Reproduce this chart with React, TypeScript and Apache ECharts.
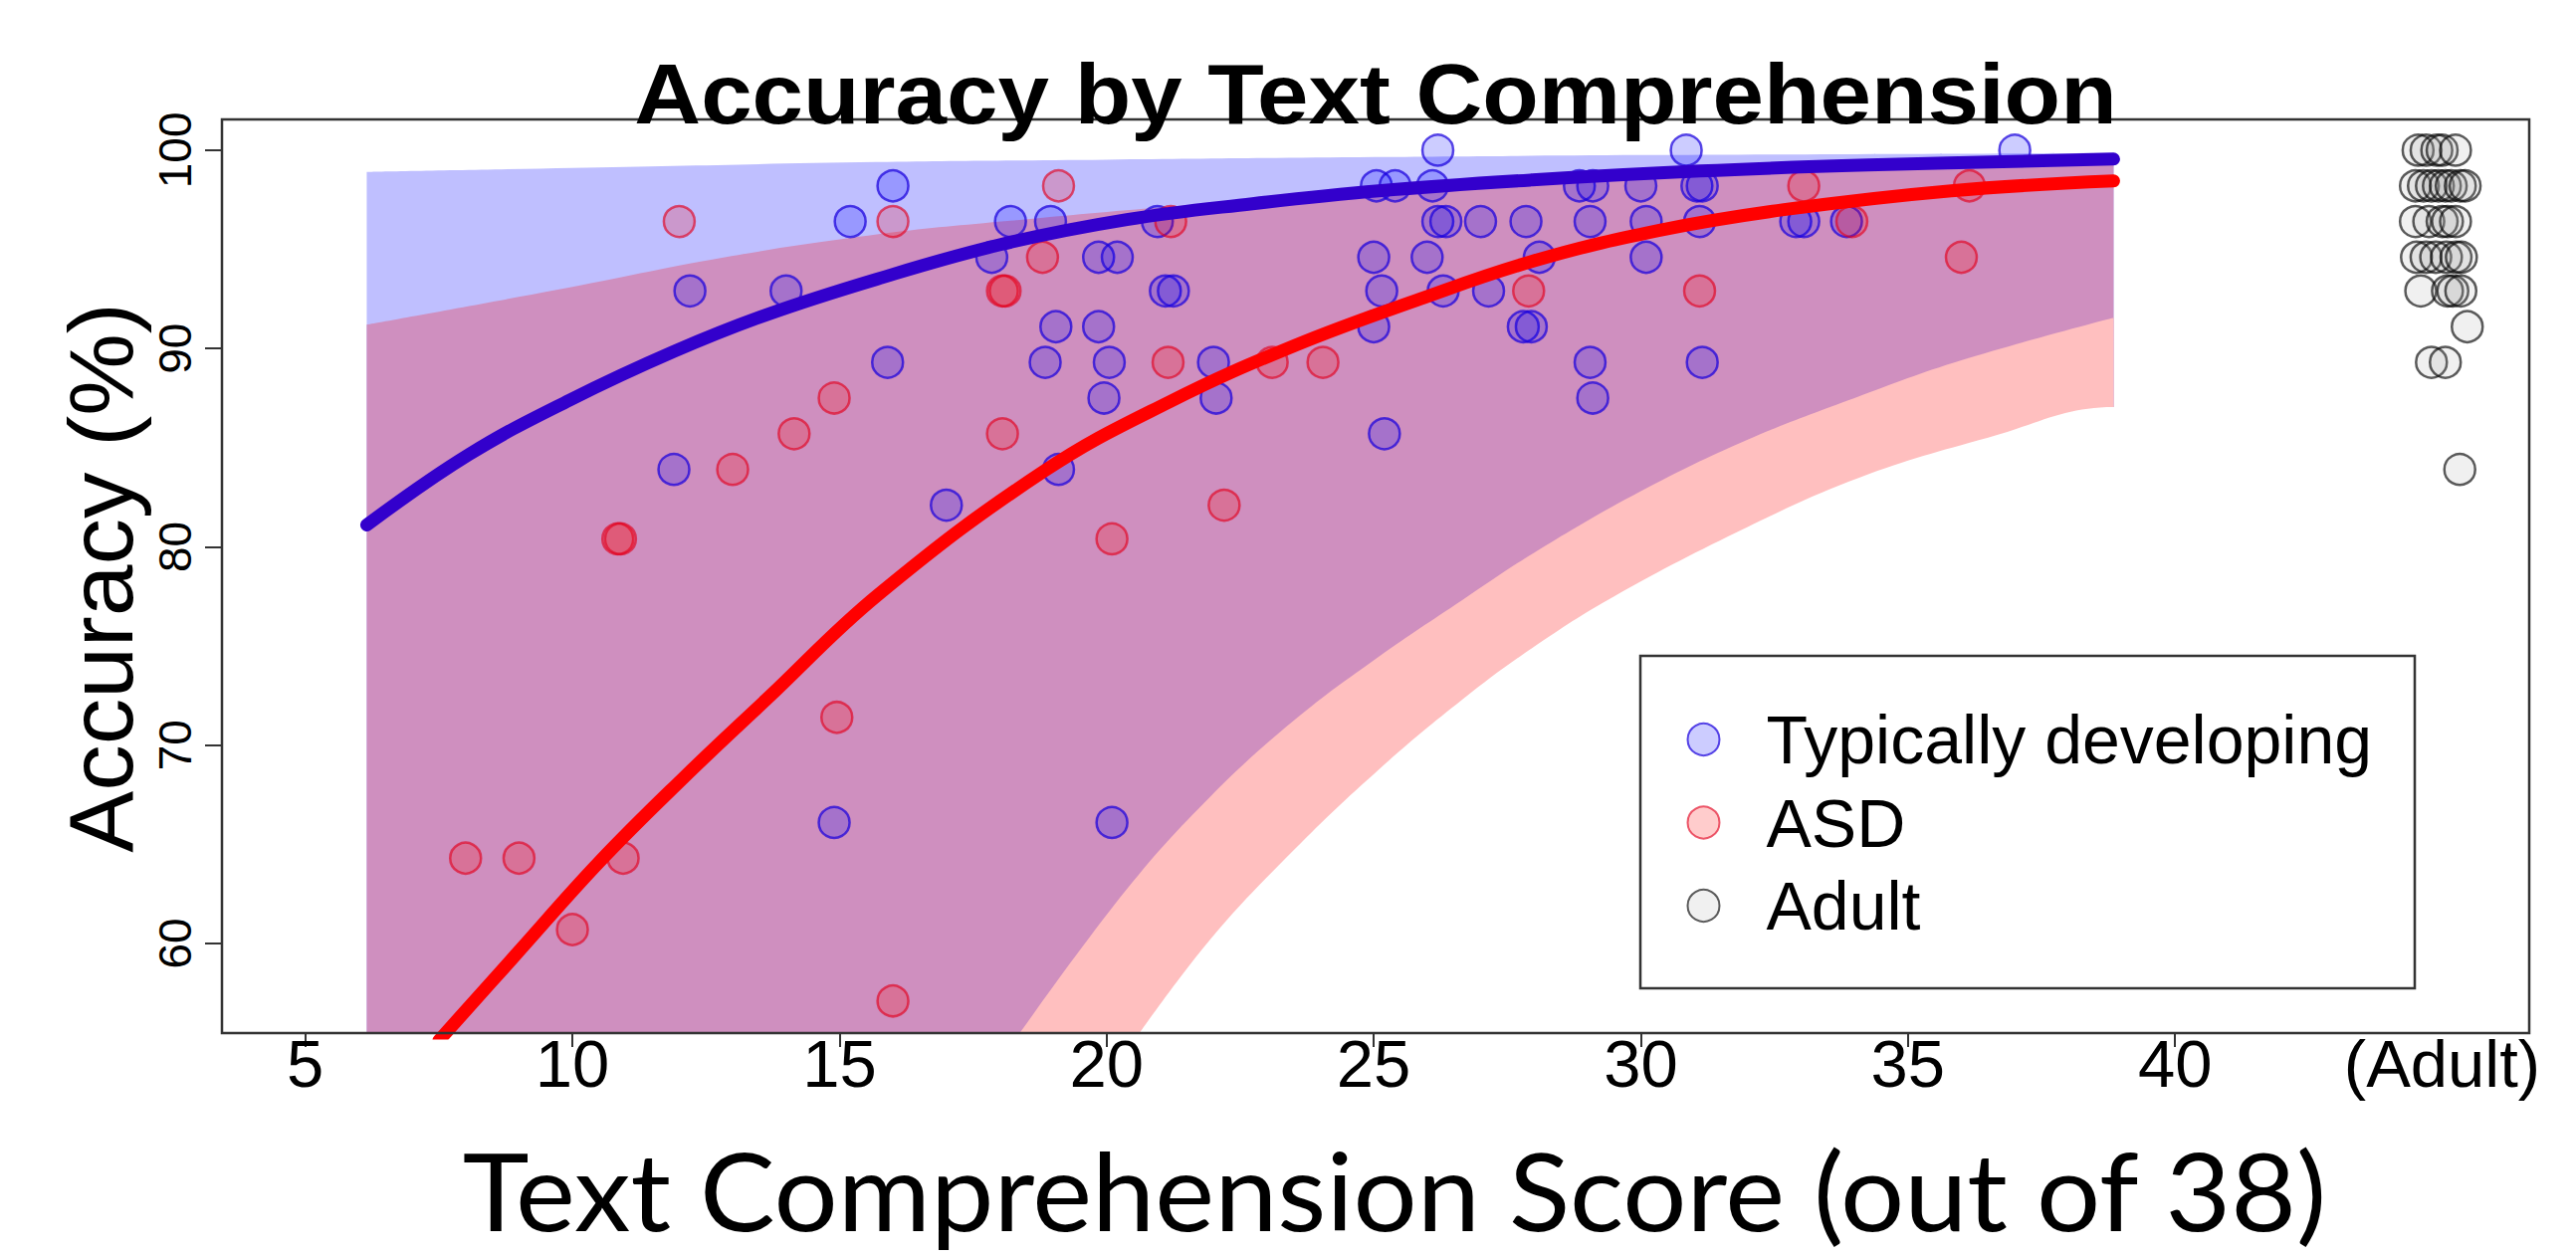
import React, { useEffect, useRef } from "react";
import * as echarts from "echarts";

// ---- axis tick / label values ----
const xTickValues = [5, 10, 15, 20, 25, 30, 35, 40];
const adultPosition = 45;
const xLabelValues = [5, 10, 15, 20, 25, 30, 35, 40, 45];
const yTickValues = [60, 70, 80, 90, 100];

// ---- scatter data: [text comprehension score, accuracy %] ----
const tdPoints: [number, number][] = [
  [15.2, 96.4], [16, 98.2], [12.2, 92.9], [14, 92.9], [15.9, 89.3], [11.9, 83.9],
  [14.9, 66.1], [20.1, 66.1], [18.2, 96.4], [18.95, 96.4], [20.95, 96.4], [17.85, 94.6],
  [19.85, 94.6], [20.2, 94.6], [21.1, 92.9], [21.25, 92.9], [19.05, 91.1], [19.85, 91.1],
  [18.85, 89.3], [20.05, 89.3], [22, 89.3], [19.95, 87.5], [22.05, 87.5], [25.2, 85.7],
  [19.1, 83.9], [17, 82.1], [26.2, 100], [25.05, 98.2], [25.4, 98.2], [26.1, 98.2],
  [26.2, 96.4], [26.35, 96.4], [27, 96.4], [27.85, 96.4], [25, 94.6], [26, 94.6],
  [28.1, 94.6], [25.15, 92.9], [26.3, 92.9], [27.15, 92.9], [25, 91.1], [27.8, 91.1],
  [27.95, 91.1], [30.85, 100], [37, 100], [28.85, 98.2], [29.1, 98.2], [30, 98.2],
  [31.05, 98.2], [31.15, 98.2], [29.05, 96.4], [30.1, 96.4], [31.1, 96.4], [32.9, 96.4],
  [33.05, 96.4], [33.85, 96.4], [30.1, 94.6], [29.05, 89.3], [31.15, 89.3], [29.1, 87.5],
];

const asdPoints: [number, number][] = [
  [12, 96.4], [16, 96.4], [14.9, 87.5], [14.15, 85.7], [13, 83.9], [10.85, 80.4],
  [10.9, 80.4], [8, 64.3], [9, 64.3], [10.95, 64.3], [10, 60.7], [14.95, 71.4],
  [16, 57.1], [20.1, 80.4], [19.1, 98.2], [21.2, 96.4], [18.8, 94.6], [18.05, 92.9],
  [18.1, 92.9], [21.15, 89.3], [23.1, 89.3], [24.05, 89.3], [18.05, 85.7], [22.2, 82.1],
  [27.9, 92.9], [33.05, 98.2], [36.15, 98.2], [33.95, 96.4], [36, 94.6], [31.1, 92.9],
];

const adultPoints: [number, number][] = [
  [44.55, 100], [44.7, 100], [44.9, 100], [45.0, 100], [45.25, 100],
  [44.5, 98.2], [44.65, 98.2], [44.8, 98.2], [44.93, 98.2], [45.06, 98.2], [45.17, 98.2], [45.34, 98.2], [45.43, 98.2],
  [44.5, 96.4], [44.75, 96.4], [45.0, 96.4], [45.1, 96.4], [45.25, 96.4],
  [44.52, 94.6], [44.7, 94.6], [44.88, 94.6], [45.08, 94.6], [45.26, 94.6], [45.36, 94.6],
  [44.6, 92.9], [45.1, 92.9], [45.2, 92.9], [45.35, 92.9],
  [45.47, 91.1],
  [44.8, 89.3], [45.06, 89.3],
  [45.33, 83.9],
];

// ---- fitted curves ----
const tdFit: [number, number][] = [
  [6.15, 81.1], [8.06, 84.65], [9.95, 87.4], [11.9, 89.85], [13.63, 91.7], [15.7, 93.5],
  [18.03, 95.25], [20.38, 96.5], [22.73, 97.3], [25.09, 97.95], [27.97, 98.5],
  [31.11, 98.95], [34.25, 99.25], [38.85, 99.55],
];
const asdFit: [number, number][] = [
  [7.5, 55.1], [8.93, 59.4], [10.5, 64.1], [12.06, 68.3], [13.63, 72.3], [15.73, 77.6],
  [18.82, 83.8], [21.17, 87.3], [23.52, 90.15], [25.87, 92.5], [27.97, 94.4],
  [30.33, 95.95], [32.68, 97.0], [35.81, 97.95], [38.85, 98.45],
];

// ---- confidence band boundaries ----
const tdBandUpper: [number, number][] = [
  [6.15, 98.9], [10, 99.1], [15.7, 99.4], [20, 99.52], [25, 99.65], [30, 99.75], [38.85, 99.85],
];
const asdBandUpper: [number, number][] = [
  [6.15, 91.2], [9.7, 92.95], [12.85, 94.6], [15.7, 95.75], [18.03, 96.4], [21.17, 97.15],
  [25, 97.9], [30, 98.6], [35, 99.05], [38.85, 99.3],
];
const tdBandLower: [number, number][] = [
  [18.38, 55.5], [20.38, 62.74], [21.95, 67.43], [23.52, 71.27], [25.09, 74.45], [26.65, 77.3],
  [28, 79.7], [30, 82.8], [32, 85.4], [34, 87.5], [36, 89.4], [38.85, 91.55],
];
const asdBandLower: [number, number][] = [
  [20.62, 55.5], [21.95, 60.24], [23.52, 64.75], [25.09, 68.76], [26.65, 72.28], [27.97, 74.9],
  [29.5, 77.5], [32, 81.0], [34.1, 83.5], [36.5, 85.5], [38.85, 87.05],
];

const TITLE = "Accuracy by Text Comprehension";
const X_TITLE = "Text Comprehension Score (out of 38)";
const Y_TITLE = "Accuracy (%)";
const LEGEND_NAMES = ["Typically developing", "ASD", "Adult"];

function fitScale(text: string, font: string, target: number): number {
  const ctx = document.createElement("canvas").getContext("2d");
  if (!ctx) return 1;
  ctx.font = font;
  const w = ctx.measureText(text).width;
  return w > 0 ? target / w : 1;
}

export default function App() {
  const ref = useRef<HTMLDivElement>(null);

  useEffect(() => {
    if (!ref.current) return;
    const chart = echarts.init(ref.current, undefined, { renderer: "svg" });

    const titleFont = 'bold 86px "Liberation Sans"';
    const yTitleFont = '90px "Liberation Sans"';
    const xTitleFont = '108px "Lato"';
    const titleScale = fitScale(TITLE, titleFont, 1490);
    const yTitleScale = fitScale(Y_TITLE, yTitleFont, 553);
    const xTitleScale = fitScale(X_TITLE, xTitleFont, 1875);

    const bandSeries = (data: [number, number][], color: string) => ({
      type: "line",
      data,
      smooth: 0.4,
      symbol: "none",
      silent: true,
      lineStyle: { opacity: 0 },
      areaStyle: { color, opacity: 1, origin: "start" },
      z: 1,
    });

    // white mask below the lowest band boundary; nudged a hair past the band end
    // so the anti-aliased right edges of the underlying bands do not show a seam
    const lastLower = asdBandLower[asdBandLower.length - 1];
    const maskData: [number, number][] = [...asdBandLower, [lastLower[0] + 0.12, lastLower[1]]];

    const option: any = {
      animation: false,
      backgroundColor: "#ffffff",
      grid: { left: 223, top: 120, width: 2318, height: 918, show: false },
      xAxis: {
        type: "value",
        min: 3.44,
        max: 46.63,
        axisLine: { show: false },
        splitLine: { show: false },
        axisTick: {
          show: true,
          customValues: xTickValues,
          length: 14,
          lineStyle: { color: "#333", width: 2 },
        },
        axisLabel: {
          customValues: xLabelValues,
          formatter: (v: number) => (v === adultPosition ? "(Adult)" : String(v)),
          fontSize: 67,
          fontFamily: "Liberation Sans",
          color: "#000",
          margin: -3,
        },
      },
      yAxis: {
        type: "value",
        min: 55.48,
        max: 101.55,
        axisLine: { show: false },
        splitLine: { show: false },
        axisTick: {
          show: true,
          customValues: yTickValues,
          length: 17,
          lineStyle: { color: "#333", width: 2 },
        },
        axisLabel: {
          customValues: yTickValues,
          rotate: 90,
          fontSize: 46,
          fontFamily: "Liberation Sans",
          color: "#000",
          margin: 24,
        },
      },
      legend: {
        orient: "vertical",
        left: 1694.5,
        top: 709,
        padding: 0,
        itemWidth: 32,
        itemHeight: 32,
        itemGap: 15.5,
        icon: "circle",
        selectedMode: false,
        data: LEGEND_NAMES,
        textStyle: {
          fontSize: 68,
          fontFamily: "Liberation Sans",
          color: "#000",
          padding: [0, 0, 0, 42],
        },
        z: 20,
      },
      series: [
        bandSeries(tdBandUpper, "#BFBFFF"),
        bandSeries(asdBandUpper, "#CF8FBF"),
        bandSeries(tdBandLower, "#FFBFBF"),
        bandSeries(maskData, "#FFFFFF"),
        {
          type: "scatter",
          name: LEGEND_NAMES[0],
          data: tdPoints,
          symbol: "circle",
          symbolSize: 31,
          silent: true,
          itemStyle: { color: "rgba(0,0,255,0.25)", borderColor: "rgba(25,0,220,0.9)", borderWidth: 2.5 },
          z: 3,
        },
        {
          type: "scatter",
          name: LEGEND_NAMES[1],
          data: asdPoints,
          symbol: "circle",
          symbolSize: 31,
          silent: true,
          itemStyle: { color: "rgba(255,0,0,0.25)", borderColor: "rgba(225,0,30,0.8)", borderWidth: 2.5 },
          z: 3,
        },
        {
          type: "scatter",
          name: LEGEND_NAMES[2],
          data: adultPoints,
          symbol: "circle",
          symbolSize: 31,
          silent: true,
          itemStyle: { color: "rgba(150,150,150,0.18)", borderColor: "rgba(0,0,0,0.8)", borderWidth: 2.5 },
          z: 3,
        },
        {
          type: "line",
          name: "TD fit",
          data: tdFit,
          smooth: 0.4,
          symbol: "none",
          silent: true,
          lineStyle: { color: "#3300CC", width: 13, cap: "round" },
          z: 4,
        },
        {
          type: "line",
          name: "ASD fit",
          data: asdFit,
          smooth: 0.4,
          symbol: "none",
          silent: true,
          lineStyle: { color: "#FF0000", width: 13, cap: "round" },
          z: 4,
        },
      ],
      graphic: [
        {
          type: "rect",
          z: 100,
          silent: true,
          shape: { x: 223, y: 120, width: 2318, height: 918 },
          style: { fill: "none", stroke: "#333", lineWidth: 2.5 },
        },
        {
          type: "rect",
          z: 5,
          silent: true,
          shape: { x: 1648, y: 659, width: 778, height: 334 },
          style: { fill: "#ffffff", stroke: "#333", lineWidth: 2.5 },
        },
        {
          type: "text",
          z: 110,
          silent: true,
          x: 1382,
          y: 93.7,
          scaleX: titleScale,
          style: {
            text: TITLE,
            font: titleFont,
            fill: "#000",
            align: "center",
            verticalAlign: "middle",
            textAlign: "center",
            textVerticalAlign: "middle",
          },
        },
        {
          type: "text",
          z: 110,
          silent: true,
          x: 101.8,
          y: 580.5,
          rotation: Math.PI / 2,
          scaleX: yTitleScale,
          style: {
            text: Y_TITLE,
            font: yTitleFont,
            fill: "#000",
            align: "center",
            verticalAlign: "middle",
            textAlign: "center",
            textVerticalAlign: "middle",
          },
        },
        {
          type: "text",
          z: 110,
          silent: true,
          x: 1401,
          y: 1196,
          scaleX: xTitleScale,
          style: {
            text: X_TITLE,
            font: xTitleFont,
            fill: "#000",
            align: "center",
            verticalAlign: "middle",
            textAlign: "center",
            textVerticalAlign: "middle",
          },
        },
      ],
    };

    chart.setOption(option);
    return () => {
      chart.dispose();
    };
  }, []);

  return (
    <div
      ref={ref}
      style={{ position: "absolute", left: 0, top: 0, width: 2588, height: 1263 }}
    />
  );
}
